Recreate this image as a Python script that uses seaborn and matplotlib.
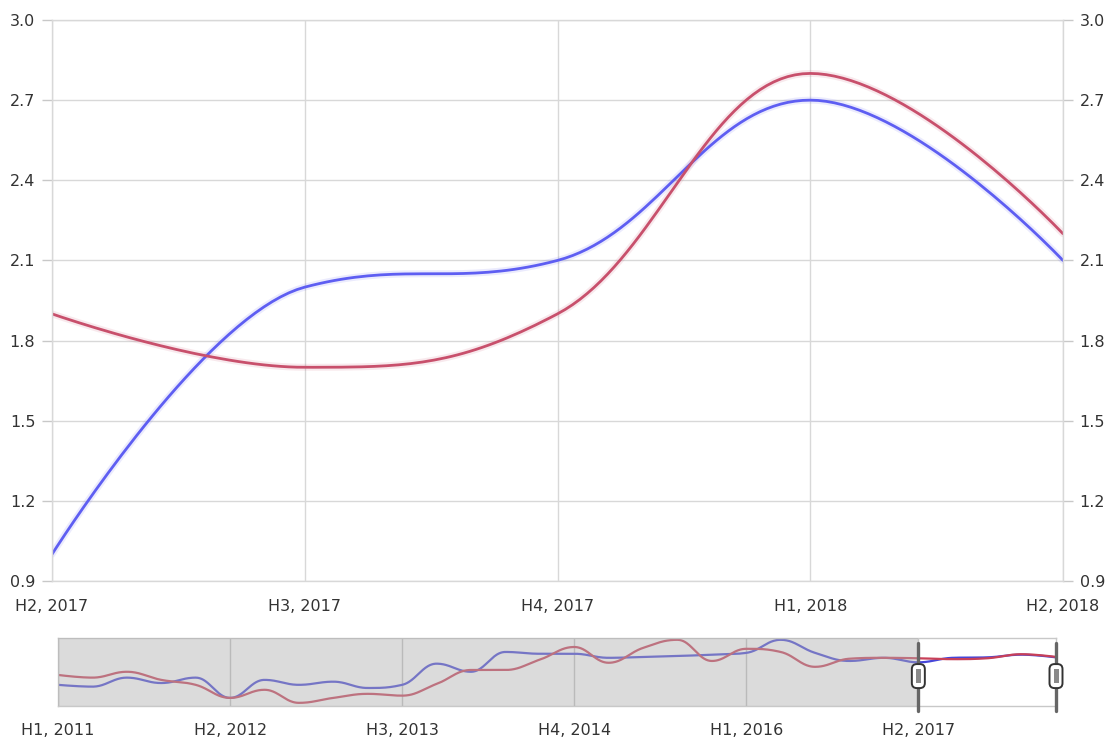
import numpy as np
import pandas as pd
import matplotlib
matplotlib.use("Agg")
import matplotlib.pyplot as plt
import seaborn as sns
from matplotlib.patches import FancyBboxPatch, Rectangle
from matplotlib.transforms import IdentityTransform

# main (zoomed) window
categories = ["H2, 2017", "H3, 2017", "H4, 2017", "H1, 2018", "H2, 2018"]
blue_values = [1.0, 2.0, 2.1, 2.7, 2.1]
red_values = [1.9, 1.7, 1.9, 2.8, 2.2]

nav_blue_history = [-4.0, -4.4, -2.4, -3.6, -2.4, -6.9, -2.9, -4.0, -3.3, -4.7,
                    -4.0, 0.7, -1.1, 3.3, 2.9, 2.9, 2.0, 2.2, 2.4, 2.7,
                    3.1, 6.0, 3.1, 1.3, 2.0]
nav_red_history = [-1.8, -2.4, -1.1, -2.9, -4.0, -6.9, -5.1, -8.0, -6.9, -6.0,
                   -6.4, -3.8, -0.7, -0.7, 1.6, 4.4, 0.9, 4.2, 6.0, 1.3,
                   4.0, 3.3, 0.0, 1.8, 2.0]
nav_labels = ["H1, 2011", "H2, 2012", "H3, 2013", "H4, 2014", "H1, 2016", "H2, 2017"]
nav_label_step = 5

nav_blue = nav_blue_history + blue_values
nav_red = nav_red_history + red_values
sel_start = len(nav_blue_history)
sel_end = len(nav_blue) - 1

BLUE = "#5e5ef2"
RED = "#c8506c"
GRID = "#d8d8d8"
TEXT = "#333333"


def spline(values, steps=40):
    # highcharts-style spline (smoothing 1.5, flat tangents at extremes)
    ys = np.asarray(values, dtype=float)
    xs = np.arange(len(ys), dtype=float)
    n = len(ys)
    s = 1.5
    d = s + 1
    left = [(xs[i], ys[i]) for i in range(n)]
    right = [(xs[i], ys[i]) for i in range(n)]
    for i in range(1, n - 1):
        lx = (s * xs[i] + xs[i - 1]) / d
        ly = (s * ys[i] + ys[i - 1]) / d
        rx = (s * xs[i] + xs[i + 1]) / d
        ry = (s * ys[i] + ys[i + 1]) / d
        corr = (ry - ly) * (rx - xs[i]) / (rx - lx) + ys[i] - ry
        ly += corr
        ry += corr
        if ly > ys[i - 1] and ly > ys[i]:
            ly = max(ys[i - 1], ys[i])
            ry = 2 * ys[i] - ly
        elif ly < ys[i - 1] and ly < ys[i]:
            ly = min(ys[i - 1], ys[i])
            ry = 2 * ys[i] - ly
        if ry > ys[i + 1] and ry > ys[i]:
            ry = max(ys[i + 1], ys[i])
            ly = 2 * ys[i] - ry
        elif ry < ys[i + 1] and ry < ys[i]:
            ry = min(ys[i + 1], ys[i])
            ly = 2 * ys[i] - ry
        left[i] = (lx, ly)
        right[i] = (rx, ry)
    out_x, out_y = [xs[0]], [ys[0]]
    t = np.linspace(0, 1, steps)[1:]
    for i in range(1, n):
        p0 = np.array([xs[i - 1], ys[i - 1]])
        p1 = np.array(right[i - 1])
        p2 = np.array(left[i])
        p3 = np.array([xs[i], ys[i]])
        pts = ((1 - t) ** 3)[:, None] * p0 + (3 * (1 - t) ** 2 * t)[:, None] * p1 \
            + (3 * (1 - t) * t ** 2)[:, None] * p2 + (t ** 3)[:, None] * p3
        out_x.extend(pts[:, 0])
        out_y.extend(pts[:, 1])
    return np.array(out_x), np.array(out_y)


def curve_frame(series):
    rows = []
    for name, vals in series.items():
        cx, cy = spline(vals)
        rows.append(pd.DataFrame({"x": cx, "y": cy, "series": name}))
    return pd.concat(rows, ignore_index=True)


sns.set_style("white")
plt.rcParams["font.family"] = ["DejaVu Sans"]

fig = plt.figure(figsize=(11.1, 7.4), dpi=100)
ax = fig.add_axes([52 / 1110, 1 - 581 / 740, 1011 / 1110, 561 / 740])
nav = fig.add_axes([58 / 1110, 1 - 706 / 740, 998 / 1110, 68 / 740])

# ---- main chart
main_df = curve_frame({"blue": blue_values, "red": red_values})
for name, col in [("blue", BLUE), ("red", RED)]:
    sub = main_df[main_df.series == name]
    ax.plot(sub.x, sub.y, color=col, lw=5, alpha=0.12, solid_capstyle="round")
sns.lineplot(data=main_df, x="x", y="y", hue="series", palette={"blue": BLUE, "red": RED},
             estimator=None, sort=False, lw=2, legend=False, ax=ax)

ax.set_xlim(0, len(categories) - 1)
ax.set_ylim(0.9, 3.0)
ax.set_xticks(range(len(categories)))
ax.set_xticklabels(categories)
yt = np.round(np.arange(0.9, 3.01, 0.3), 1)
ax.set_yticks(yt)
ax.set_yticklabels([f"{v:.1f}" for v in yt])
ax.set_xlabel("")
ax.set_ylabel("")
ax.grid(True, color=GRID, lw=1)
for sp in ax.spines.values():
    sp.set_color(GRID)
    sp.set_linewidth(1)
ax.tick_params(axis="x", length=0, pad=13, labelsize=11.5, labelcolor=TEXT)
ax.tick_params(axis="y", left=True, right=True, labelleft=True, labelright=True,
               length=7, width=1, color="#c8c8c8", pad=5, labelsize=11.5, labelcolor=TEXT)

# ---- navigator
nav_df = curve_frame({"blue": nav_blue, "red": nav_red})
sns.lineplot(data=nav_df, x="x", y="y", hue="series", palette={"blue": "#4646d8", "red": "#c84058"},
             estimator=None, sort=False, lw=1.6, legend=False, ax=nav)
nav.set_xlim(0, len(nav_blue) - 1)
nav.set_ylim(-8.7, 6.4)
nav.axvspan(0, sel_start, color="#b0b0b0", alpha=0.45, lw=0, zorder=3)
nav.set_xticks(range(0, len(nav_blue), nav_label_step))
nav.set_xticklabels(nav_labels)
nav.set_yticks([])
nav.set_xlabel("")
nav.set_ylabel("")
nav.grid(True, axis="x", color="#c4c4c4", lw=1)
for sp in nav.spines.values():
    sp.set_color("#c8c8c8")
    sp.set_linewidth(1)
nav.tick_params(axis="x", length=6, width=1, color="#c4c4c4", pad=6,
                labelsize=11.5, labelcolor=TEXT)

# handles of the range selector
for xi in (sel_start, sel_end):
    nav.plot([xi, xi], [0.93, -0.07], transform=nav.get_xaxis_transform(),
             color="#666666", lw=2.4, clip_on=False, zorder=5)
fig.canvas.draw()
for xi in (sel_start, sel_end):
    px, py = nav.transData.transform((xi, 0))[0], nav.transAxes.transform((0, 0.44))[1]
    fig.add_artist(FancyBboxPatch((px - 6.5, py - 12), 13, 24,
                                  boxstyle="round,pad=0,rounding_size=5",
                                  transform=IdentityTransform(), fc="white",
                                  ec="#333333", lw=1.4, zorder=6))
    fig.add_artist(Rectangle((px - 2.5, py - 7), 5, 14, transform=IdentityTransform(),
                             fc="#8a8a8a", ec="none", zorder=7))

fig.savefig("out.png", dpi=100)
